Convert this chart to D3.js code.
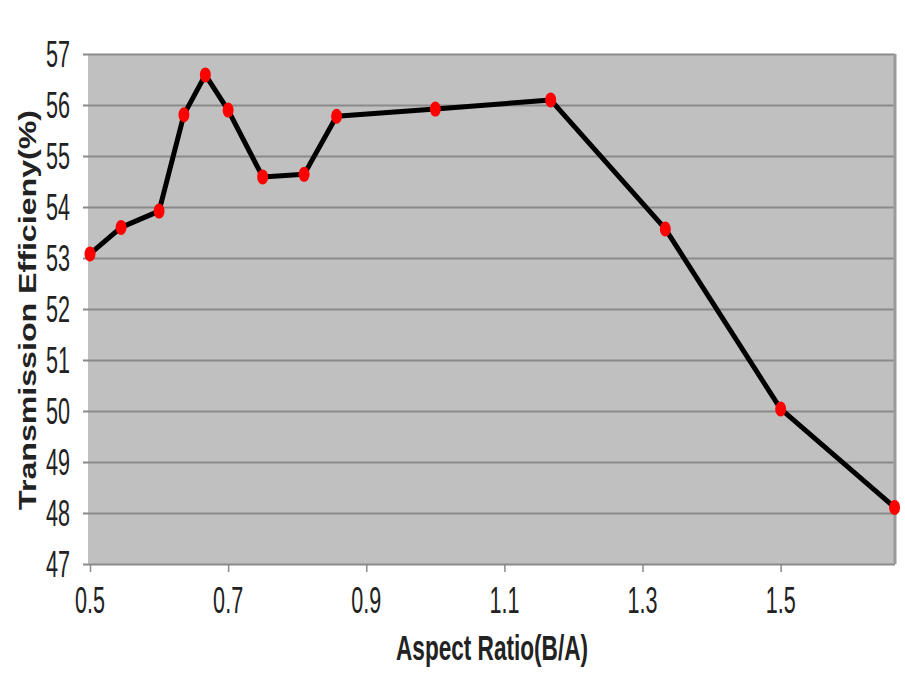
<!DOCTYPE html>
<html>
<head>
<meta charset="utf-8">
<script src="https://cdn.jsdelivr.net/npm/d3@7"></script>
<style>
  html, body { margin: 0; padding: 0; background: #ffffff; }
  svg { display: block; }
</style>
</head>
<body>
<svg id="chart" width="905" height="687"></svg>
<script>
// Aspect ratio (B/A) of each sample
const aspectRatio = [0.5, 0.545, 0.6, 0.636, 0.667, 0.7, 0.75, 0.81, 0.857, 1.0, 1.167, 1.333, 1.5, 1.665];
// Transmission efficiency in percent
const efficiency = [53.08, 53.60, 53.92, 55.81, 56.59, 55.90, 54.59, 54.64, 55.78, 55.92, 56.10, 53.57, 50.04, 48.11];
// Axis ticks
const xTicks = [0.5, 0.7, 0.9, 1.1, 1.3, 1.5];
const yTicks = [47, 48, 49, 50, 51, 52, 53, 54, 55, 56, 57];
const xTitle = "Aspect Ratio(B/A)";
const yTitle = "Transmission Efficieny(%)";

const svg = d3.select("#chart");
const sans = "'Liberation Sans', Arial, sans-serif";
// condensed, tall lettering for the tick labels
const sx = 0.8, sy = 1.4;

const x = d3.scaleLinear().domain([0.5, 1.667]).range([90, 896]);
const y = d3.scaleLinear().domain([47, 57]).range([564, 54]);

// plot area background
svg.append("rect")
  .attr("x", x(0.5) - 2).attr("y", y(57))
  .attr("width", x(1.667) - x(0.5) + 1).attr("height", y(47) - y(57))
  .attr("fill", "#c0c0c0");

// horizontal gridlines with left tick marks
const yAxis = d3.axisLeft(y).tickValues(yTicks)
  .tickSize(-(x(1.667) - x(0.5) + 1)).tickFormat("");
svg.append("g").attr("transform", `translate(${x(0.5) - 2},0)`).call(yAxis)
  .call(g => g.select(".domain").remove())
  .call(g => g.selectAll(".tick line").attr("stroke", "#8a8a8a").attr("stroke-width", 2.2)
    .attr("x1", -5));

// right border of plot area
svg.append("line")
  .attr("x1", x(1.667) - 1).attr("x2", x(1.667) - 1)
  .attr("y1", y(57)).attr("y2", y(47))
  .attr("stroke", "#9a9a9a").attr("stroke-width", 3);

// bottom axis tick marks
const xAxis = d3.axisBottom(x).tickValues(xTicks).tickSize(8).tickFormat("");
svg.append("g").attr("transform", `translate(0,${y(47)})`).call(xAxis)
  .call(g => g.select(".domain").remove())
  .call(g => g.selectAll(".tick line").attr("stroke", "#8a8a8a").attr("stroke-width", 1.5));

// y tick labels
const fs = 27;
const cap = 0.72 * fs;
svg.append("g").selectAll("g").data(yTicks).join("g")
  .attr("transform", d => `translate(70,${y(d) - 1}) scale(${sx},${sy})`)
  .append("text")
  .attr("y", cap / 2)
  .attr("text-anchor", "end")
  .attr("font-family", sans).attr("font-size", fs)
  .attr("fill", "#222").text(d => d);

// x tick labels
svg.append("g").selectAll("g").data(xTicks).join("g")
  .attr("transform", d => `translate(${x(d)},613) scale(${sx},${sy})`)
  .append("text")
  .attr("text-anchor", "middle")
  .attr("font-family", sans).attr("font-size", fs)
  .attr("fill", "#222").text(d => d3.format(".1f")(d));

// x axis title
svg.append("g").attr("transform", `translate(492,660) scale(1,1.34)`)
  .append("text")
  .attr("text-anchor", "middle")
  .attr("font-family", sans).attr("font-weight", "bold").attr("font-size", 26)
  .attr("textLength", 192).attr("lengthAdjust", "spacingAndGlyphs")
  .attr("fill", "#222").text(xTitle);

// y axis title
svg.append("text")
  .attr("transform", "translate(35.5,310) rotate(-90)")
  .attr("text-anchor", "middle")
  .attr("font-family", sans).attr("font-weight", "bold").attr("font-size", 23)
  .attr("textLength", 400).attr("lengthAdjust", "spacingAndGlyphs")
  .attr("fill", "#222").text(yTitle);

// data line
const pts = aspectRatio.map((a, i) => [a, efficiency[i]]);
svg.append("path").datum(pts)
  .attr("fill", "none").attr("stroke", "#000").attr("stroke-width", 5)
  .attr("stroke-linejoin", "round")
  .attr("d", d3.line().x(d => x(d[0])).y(d => y(d[1])));

// markers
svg.append("g").selectAll("ellipse").data(pts).join("ellipse")
  .attr("cx", d => x(d[0])).attr("cy", d => y(d[1]))
  .attr("rx", 5.5).attr("ry", 7.5)
  .attr("fill", "#ff0000");
</script>
</body>
</html>
